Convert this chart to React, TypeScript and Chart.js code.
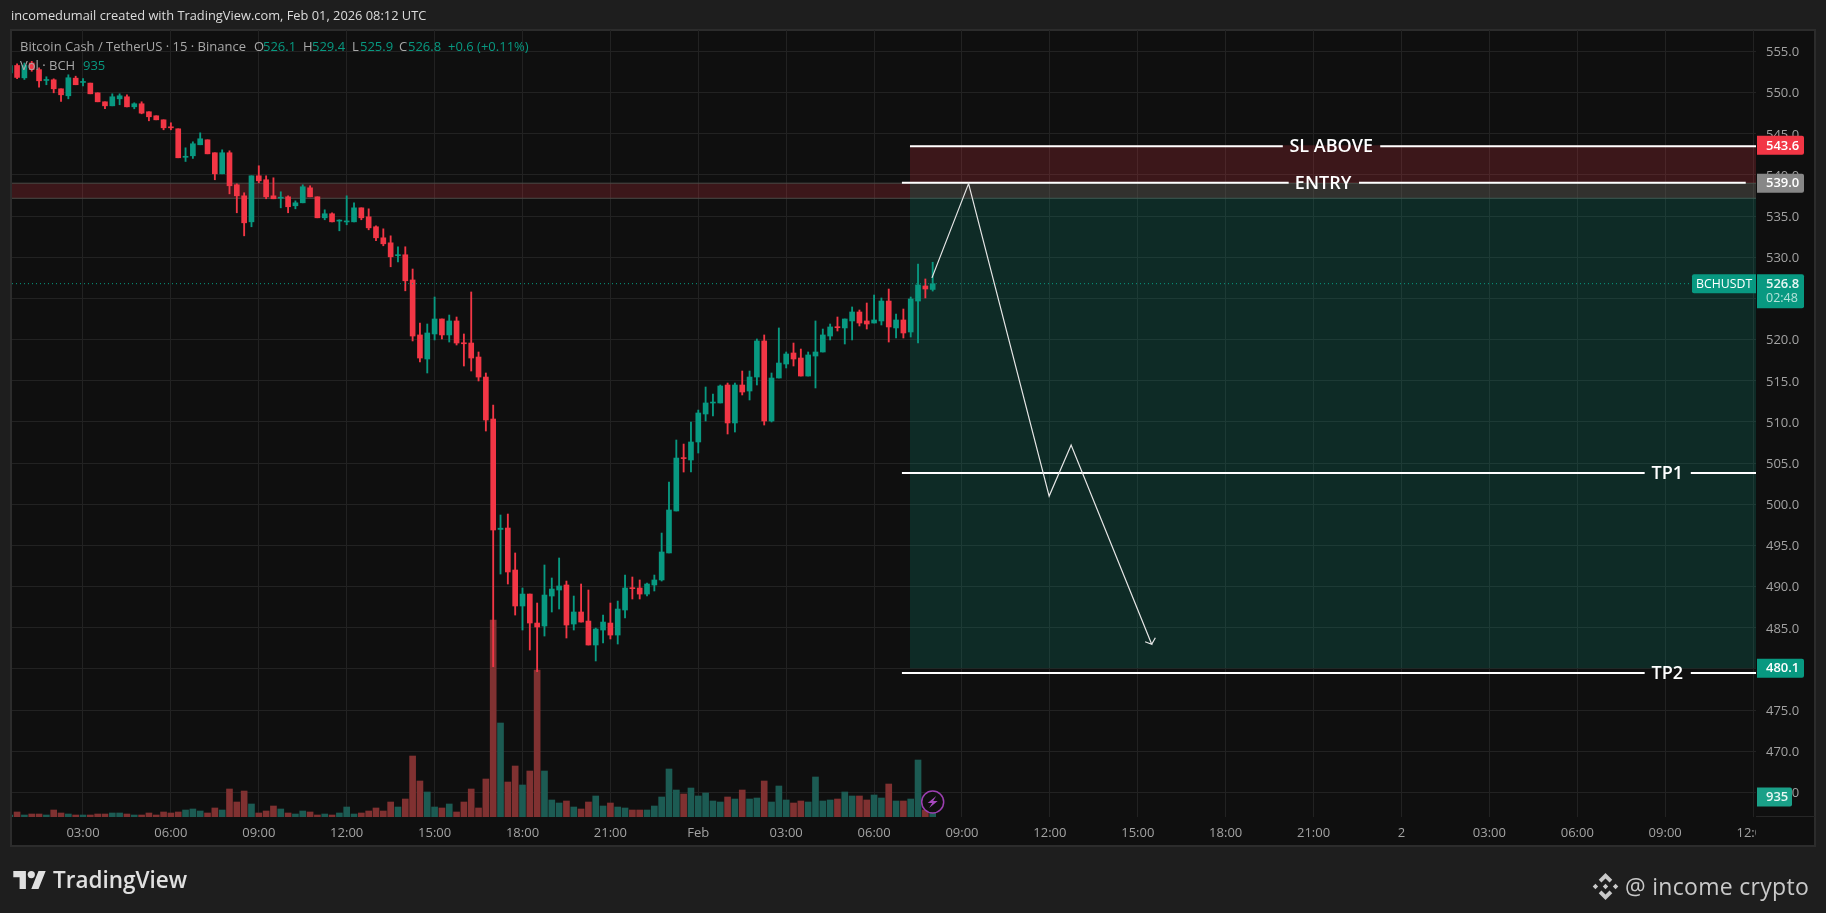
import React, { useEffect, useRef } from "react";
import { Chart, registerables } from "chart.js";

Chart.register(...registerables);

// ---- data ----
const firstBar = 2;
const opens = [552.4,553.3,551.8,553.6,552.8,551.48,551.56,550.47,549.62,551.76,551.24,551.16,549.98,548.89,548.4,549.25,549.5,548.28,548.65,547.68,547.19,546.7,545.85,545.61,542.15,542.33,543.67,544.27,542.7,540.14,542.7,538.81,537.47,534.31,539.9,539.42,537.47,537.18,537.35,536.26,536.62,538.44,537.35,534.8,535.29,534.4,534.3,534.31,536.01,534.92,533.71,532.37,531.76,530.2,530.31,527.25,520.57,517.65,520.69,522.51,520.57,522.27,519.6,519.59,517.89,515.46,510.36,496.95,497.12,492.02,487.65,489.1,485.58,485.22,488.86,489.59,490.2,485.46,486.92,485.82,482.91,484.73,485.58,484.12,487.16,489.85,489.83,489.1,490.2,490.81,494.09,499.19,505.65,505.38,507.57,510.97,512.3,512.31,514.49,509.88,514.49,513.76,515.46,519.84,510.12,515.34,517.04,518.38,517.77,515.58,518.01,518.5,520.44,521.55,521.42,522.27,523.36,522.27,522.02,522.27,524.69,521.42,522.39,520.93,524.69,526.52,526.1];
const highs = [553.3,553.5,553.6,553.8,553.0,551.93,551.68,550.47,552.17,552.0,551.72,551.16,549.98,548.89,549.86,549.86,549.74,548.77,548.89,547.68,547.19,546.7,546.34,545.61,543.3,544.03,545.12,544.27,542.7,543.06,542.94,538.93,537.84,539.9,541.12,539.9,539.66,537.96,537.47,536.86,538.81,538.69,537.35,535.77,535.41,534.56,537.47,536.62,536.01,535.89,533.83,533.46,532.61,531.28,531.28,528.58,522.02,521.9,525.18,522.51,522.99,522.75,520.69,525.79,518.5,515.95,512.06,498.7,498.82,494.09,489.83,489.1,488.01,492.63,491.05,493.48,490.68,488.86,490.32,489.59,484.97,486.55,488.01,488.25,491.41,491.17,490.81,490.44,491.41,496.51,502.71,507.81,507.32,510.0,511.45,514.25,513.4,514.49,514.73,514.73,516.19,516.19,520.08,520.57,515.95,521.42,518.5,519.59,518.86,518.5,522.27,521.29,521.9,522.75,522.51,523.97,523.6,524.45,525.42,525.06,526.15,523.12,523.72,525.18,529.19,527.37,529.4];
const lows = [552.3,551.7,551.6,552.6,550.67,550.96,549.98,548.93,549.25,550.96,550.83,549.86,548.89,548.04,548.4,548.53,548.28,548.04,547.43,546.58,546.7,545.49,545.49,542.09,541.64,542.01,543.67,542.57,539.42,540.14,537.71,535.41,532.61,533.71,539.05,537.11,537.11,536.01,535.41,535.89,536.62,537.35,534.8,534.56,534.31,533.22,533.95,534.31,534.56,533.34,532.01,531.4,528.85,529.45,525.93,519.84,517.29,515.95,519.96,520.08,519.71,519.35,516.8,516.19,514.98,508.9,480.28,491.53,490.32,486.55,484.73,482.3,479.67,484.0,486.92,487.28,483.76,484.73,485.7,482.91,480.97,483.15,483.64,483.03,486.19,488.5,488.5,488.86,489.47,490.68,494.09,499.19,503.92,503.92,506.23,510.12,510.73,512.31,508.54,508.78,513.28,512.67,514.49,509.63,510.0,515.34,516.56,516.8,515.58,515.58,514.13,518.5,519.96,521.05,519.47,519.96,521.66,521.29,522.02,521.78,519.71,520.2,520.2,520.32,519.59,525.06,525.9];
const closes = [553.3,551.85,553.3,552.8,551.44,551.56,550.47,549.74,551.81,550.96,551.28,549.86,548.89,548.4,549.5,549.62,548.28,548.65,547.51,547.07,546.7,545.73,545.73,542.09,542.25,543.79,544.4,542.57,540.14,542.7,538.69,537.47,534.19,539.9,539.29,537.35,537.11,537.28,536.14,536.62,538.57,537.35,534.8,535.29,534.31,534.5,534.4,536.01,534.8,533.58,532.37,531.64,530.06,530.25,527.15,520.44,517.77,520.81,522.51,520.57,522.27,519.59,519.5,517.77,515.46,510.24,496.88,497.1,491.78,487.65,489.1,485.58,485.1,488.98,489.71,490.08,485.34,486.92,485.7,482.91,484.85,485.7,484.12,487.28,489.83,489.75,489.1,490.32,490.81,494.21,499.31,505.62,505.55,507.57,511.09,512.31,512.4,514.37,509.88,514.49,513.64,515.46,519.84,510.12,515.34,517.16,518.26,517.65,515.58,518.14,518.5,520.57,521.54,521.45,522.51,523.36,522.02,521.9,522.39,524.69,521.54,522.39,520.81,524.94,526.64,526.15,526.8];
const volumes = [94,234,94,140,140,94,327,187,140,94,94,94,140,140,187,187,140,94,94,187,94,234,187,234,327,374,281,187,421,327,1309,701,1215,608,187,281,514,374,187,140,281,234,94,140,94,187,467,140,187,281,421,281,701,467,841,2851,1683,1169,467,421,608,234,701,1309,421,1776,9208,4394,1636,2384,1496,2150,6871,2150,795,654,748,467,374,701,982,514,654,467,421,327,327,327,514,935,2244,1262,1075,1355,982,1122,748,701,935,841,1262,841,888,1683,701,1449,795,654,748,701,1870,748,795,841,1169,982,982,795,1028,888,1542,748,748,841,2664,327,935];

const timeTickBars = [12,24,36,48,60,72,84,96,108,120,132,144,156,168,180,192,204,216,228,240];
const timeTickLabels = ["03:00","06:00","09:00","12:00","15:00","18:00","21:00","Feb","03:00","06:00","09:00","12:00","15:00","18:00","21:00","2","03:00","06:00","09:00","12:00"];
const priceTicks = [555,550,545,540,535,530,525,520,515,510,505,500,495,490,485,480,475,470,465];

const xRange = [2.307, 240.4];
const priceRange = [462.02, 557.61];
const volumeMax = 36792;

const lastPrice = 526.8;
const lastVolume = 935;
const bandTop = 539;
const bandBottom = 537.17;
const slZoneTop = 543.6;
const tp2ZoneBottom = 480.1;
const zoneStartBar = 124.9;

const slPrice = 543.5;
const entryPrice = 539.07;
const tp1Price = 503.8;
const tp2Price = 479.5;
const slSegments = [[124.9,175.8],[189.1,240.4]];
const entrySegments = [[123.8,176.6],[186.2,239]];
const tp1Segments = [[123.8,225.2],[231.5,240.4]];
const tp2Segments = [[123.8,225.2],[231.5,240.4]];
const levelLabels: [string, number, number][] = [
  ["SL ABOVE", 182.4, slPrice],
  ["ENTRY", 181.3, entryPrice],
  ["TP1", 228.3, tp1Price],
  ["TP2", 228.3, tp2Price],
];

const arrowBars = [127.9,132.9,143.9,146.9,157.9,157,157.9,158.4];
const arrowPrices = [527.5,538.95,501.0,507.2,483,483.3,483,483.8];

const GREEN = "#089981";
const RED = "#F23645";
const VOL_GREEN = "#1c5b53";
const VOL_RED = "#803131";
const PANE = "#0f0f0f";
const PAGE = "#1e1e1e";
const FONT = '"Open Sans", "Noto Sans", sans-serif';

const xs = opens.map((_, i) => firstBar + i);
const up = opens.map((o, i) => closes[i] >= o);

function hline(price: number, a: number, b: number, color: string, width: number, order: number) {
  return {
    type: "line", order, yAxisID: "y", borderColor: color, borderWidth: width, pointRadius: 0,
    data: [{ x: a, y: price }, { x: b, y: price }],
  };
}
function zone(top: number, bottom: number, a: number, color: string, order: number) {
  return {
    type: "line", order, yAxisID: "y", borderWidth: 0, borderColor: "transparent", pointRadius: 0,
    backgroundColor: color, fill: { target: { value: bottom } },
    data: [{ x: a, y: top }, { x: xRange[1], y: top }],
  };
}
function roundTag(ctx: CanvasRenderingContext2D, x: number, y: number, w: number, h: number, radii: number[], color: string) {
  ctx.fillStyle = color;
  ctx.beginPath();
  ctx.roundRect(x, y, w, h, radii);
  ctx.fill();
}

const decor = {
  id: "decor",
  beforeDraw(chart: any) {
    const { ctx, width, height, chartArea: a } = chart;
    ctx.save();
    ctx.fillStyle = PAGE;
    ctx.fillRect(0, 0, width, height);
    ctx.fillStyle = PANE;
    ctx.fillRect(11, 30, 1804, 816);
    ctx.strokeStyle = "#2c2c2c";
    ctx.lineWidth = 2;
    ctx.strokeRect(11, 30, 1804, 816);
    ctx.strokeStyle = "#262626";
    ctx.lineWidth = 1;
    ctx.beginPath();
    ctx.moveTo(a.right, a.bottom - 0.5);
    ctx.lineTo(1815, a.bottom - 0.5);
    ctx.stroke();
    ctx.restore();
  },
  afterDraw(chart: any) {
    const { ctx, chartArea: a, scales } = chart;
    const y = scales.y, x = scales.x, yv = scales.yVol;
    ctx.save();
    // the time axis stops at the price axis
    ctx.fillStyle = PANE;
    ctx.fillRect(a.right, a.bottom + 1, 58, 27);

    // level labels
    ctx.textAlign = "center";
    ctx.textBaseline = "middle";
    ctx.fillStyle = "#ffffff";
    ctx.font = `600 18px ${FONT}`;
    for (const [t, b, p] of levelLabels) ctx.fillText(t, x.getPixelForValue(b), y.getPixelForValue(p) + 1);

    // event mark on the last bar
    const cx = x.getPixelForValue(opens.length - 1 + firstBar);
    const cy = a.bottom - 15;
    ctx.fillStyle = PANE;
    ctx.strokeStyle = "#9c3fb0";
    ctx.lineWidth = 1.5;
    ctx.beginPath();
    ctx.arc(cx, cy, 11, 0, Math.PI * 2);
    ctx.fill();
    ctx.stroke();
    ctx.fillStyle = "#a648bd";
    ctx.beginPath();
    ctx.moveTo(cx + 3.5, cy - 6);
    ctx.lineTo(cx - 5, cy + 1);
    ctx.lineTo(cx - 0.5, cy + 1);
    ctx.lineTo(cx - 3.5, cy + 6);
    ctx.lineTo(cx + 5, cy - 1);
    ctx.lineTo(cx + 0.5, cy - 1);
    ctx.closePath();
    ctx.fill();

    // price tags
    const tx = a.right + 1;
    const tag = (label: string, p: number, color: string) => {
      const py = y.getPixelForValue(p);
      roundTag(ctx, tx, py - 9.5, 47, 19, [0, 2, 2, 0], color);
      ctx.fillStyle = "#ffffff";
      ctx.font = `600 13px ${FONT}`;
      ctx.textAlign = "left";
      ctx.fillText(label, tx + 9, py + 0.5);
    };
    tag(slZoneTop.toFixed(1), slZoneTop, RED);
    tag(bandTop.toFixed(1), bandTop, "#878787");
    tag(tp2ZoneBottom.toFixed(1), tp2ZoneBottom, GREEN);

    // last price tag with countdown
    const ly = y.getPixelForValue(lastPrice);
    roundTag(ctx, tx, ly - 9.5, 47, 34, [0, 2, 2, 0], GREEN);
    ctx.fillStyle = "#e8f7f4";
    ctx.font = `600 13px ${FONT}`;
    ctx.fillText(lastPrice.toFixed(1), tx + 9, ly + 0.5);
    ctx.fillStyle = "#b5e3da";
    ctx.font = `500 12.5px ${FONT}`;
    ctx.fillText("02:48", tx + 9, ly + 15);
    roundTag(ctx, a.right - 64, ly - 9.5, 64, 19, [2, 0, 0, 2], GREEN);
    ctx.fillStyle = "#ffffff";
    ctx.font = `500 12.3px ${FONT}`;
    ctx.fillText("BCHUSDT", a.right - 60, ly + 0.5);

    // volume tag
    const vy = yv.getPixelForValue(lastVolume);
    roundTag(ctx, tx, vy - 9.5, 35, 19, [0, 2, 2, 0], "#1aa088");
    ctx.fillStyle = "#e8f7f4";
    ctx.font = `600 13px ${FONT}`;
    ctx.fillText(String(lastVolume), tx + 9, vy + 0.5);
    ctx.restore();
  },
};

const T = ({ l, t, c, s = 13, w = 400, children, ls }: any) => (
  <span style={{ position: "absolute", left: l, top: t, color: c, fontSize: s, fontWeight: w, letterSpacing: ls, lineHeight: 1, whiteSpace: "nowrap", fontFamily: FONT }}>{children}</span>
);

export default function App() {
  const ref = useRef<HTMLCanvasElement>(null);
  useEffect(() => {
    document.body.style.margin = "0";
    document.body.style.background = PAGE;
    const pts = (lo: number[], hi: number[]) => xs.map((x, i) => ({ x, y: [lo[i], hi[i]] }));
    const chart = new Chart(ref.current as HTMLCanvasElement, {
      type: "bar",
      data: {
        datasets: [
          {
            type: "bar", order: 20, yAxisID: "yVol", barThickness: 6, grouped: false,
            data: xs.map((x, i) => ({ x, y: volumes[i] })),
            backgroundColor: up.map((u) => (u ? VOL_GREEN : VOL_RED)),
          },
          zone(bandTop, bandBottom, xRange[0], "rgba(242,54,69,0.2)", 19),
          hline(bandTop, xRange[0], xRange[1], "#4a4a47", 1, 18),
          hline(bandBottom, xRange[0], xRange[1], "#4a4a47", 1, 18),
          zone(slZoneTop, bandTop, zoneStartBar, "rgba(242,54,69,0.2)", 17),
          zone(bandTop, tp2ZoneBottom, zoneStartBar, "rgba(8,153,129,0.2)", 16),
          {
            type: "bar", order: 12, yAxisID: "y", barThickness: 1.2, grouped: false,
            data: pts(lows, highs),
            backgroundColor: up.map((u) => (u ? GREEN : RED)),
          },
          {
            type: "bar", order: 11, yAxisID: "y", barThickness: 5, grouped: false,
            data: xs.map((x, i) => ({ x, y: [opens[i], closes[i]] })),
            backgroundColor: up.map((u) => (u ? GREEN : RED)),
            minBarLength: 1,
          },
          {
            type: "line", order: 10, yAxisID: "y", borderColor: GREEN, borderWidth: 1, borderDash: [1, 3], pointRadius: 0,
            data: [{ x: xRange[0], y: lastPrice }, { x: xRange[1], y: lastPrice }],
          },
          ...slSegments.map(([a, b]) => hline(slPrice, a, b, "#ffffff", 2, 5)),
          ...entrySegments.map(([a, b]) => hline(entryPrice, a, b, "#ffffff", 2, 5)),
          ...tp1Segments.map(([a, b]) => hline(tp1Price, a, b, "#ffffff", 2, 5)),
          ...tp2Segments.map(([a, b]) => hline(tp2Price, a, b, "#ffffff", 2, 5)),
          {
            type: "line", order: 4, yAxisID: "y", borderColor: "#e6e6e6", borderWidth: 1.2, pointRadius: 0, tension: 0,
            data: arrowBars.map((x, i) => ({ x, y: arrowPrices[i] })),
          },
        ] as any,
      },
      options: {
        animation: false,
        responsive: false,
        devicePixelRatio: 1,
        layout: { padding: { left: 12, top: 30, right: 11, bottom: 67 } },
        plugins: { legend: { display: false }, tooltip: { enabled: false } },
        scales: {
          x: {
            type: "linear", position: "bottom", offset: false, min: xRange[0], max: xRange[1],
            afterBuildTicks: (s: any) => { s.ticks = timeTickBars.map((value) => ({ value })); },
            afterFit: (s: any) => { s.height = 29; },
            border: { display: false },
            grid: { color: "#222222", lineWidth: 1, offset: false, drawTicks: false, tickLength: 0 },
            ticks: {
              autoSkip: false, maxRotation: 0, padding: 8, color: "#a3a3a3",
              font: { family: FONT, size: 13 },
              callback: (_v: any, i: number) => timeTickLabels[i],
            },
          },
          y: {
            type: "linear", position: "right", min: priceRange[0], max: priceRange[1],
            afterBuildTicks: (s: any) => { s.ticks = priceTicks.map((value) => ({ value })); },
            afterFit: (s: any) => { s.width = 59; },
            border: { display: false },
            grid: { color: "#222222", lineWidth: 1, drawTicks: false, tickLength: 0 },
            ticks: {
              padding: 10, labelOffset: 1, color: "#a3a3a3", font: { family: FONT, size: 13 },
              callback: (v: any) => Number(v).toFixed(1),
            },
          },
          yVol: { type: "linear", display: false, position: "left", min: 0, max: volumeMax, grid: { display: false } },
        },
      } as any,
      plugins: [decor] as any,
    });
    return () => chart.destroy();
  }, []);

  const g = "#a8a8a8";
  return (
    <div style={{ position: "absolute", left: 0, top: 0, width: 1826, height: 913, overflow: "hidden", background: PAGE }}>
      <canvas ref={ref} width={1826} height={913} style={{ display: "block", width: 1826, height: 913 }} />
      <T l={11} t={9} c="#dcdcdc" s={12.85}>incomedumail created with TradingView.com, Feb 01, 2026 08:12 UTC</T>
      <T l={20} t={40} c={g} s={13}>Bitcoin Cash / TetherUS · 15 · Binance</T>
      <T l={254} t={40} c={g} s={13}>O</T><T l={263} t={40} c={GREEN} s={13}>526.1</T>
      <T l={303} t={40} c={g} s={13}>H</T><T l={312} t={40} c={GREEN} s={13}>529.4</T>
      <T l={352} t={40} c={g} s={13}>L</T><T l={360} t={40} c={GREEN} s={13}>525.9</T>
      <T l={399} t={40} c={g} s={13}>C</T><T l={408} t={40} c={GREEN} s={13}>526.8</T>
      <T l={448} t={40} c={GREEN} s={13}>+0.6 (+0.11%)</T>
      <T l={20} t={59} c={g} s={13}>Vol · BCH</T>
      <T l={83} t={59} c={GREEN} s={13}>935</T>

      <svg style={{ position: "absolute", left: 13, top: 871 }} width="33" height="18" viewBox="0 0 36 20">
        <path fill="#e0e0e0" d="M14 20H7V7H0V0h14zM28 20h-8L28 0h8z" />
        <circle fill="#e0e0e0" cx="20" cy="4" r="4" />
      </svg>
      <T l={53} t={869} c="#e0e0e0" s={22.5} w={600}>TradingView</T>

      <svg style={{ position: "absolute", left: 1592, top: 873 }} width="27" height="27" viewBox="0 0 26 26">
        <path fill="#c9c9c9" d="M13 0l6.5 6.5-2.6 2.6L13 5.2 9.1 9.1 6.5 6.5zM13 26l-6.5-6.5 2.6-2.6 3.9 3.9 3.9-3.9 2.6 2.6zM3.3 10.4L5.9 13l-2.6 2.6L.7 13zM22.7 10.4l2.6 2.6-2.6 2.6-2.6-2.6zM13 10.4l2.6 2.6-2.6 2.6-2.6-2.6z" />
      </svg>
      <T l={1625} t={875} c="#c9c9c9" s={23} ls="0.3px">@ income crypto</T>
    </div>
  );
}
